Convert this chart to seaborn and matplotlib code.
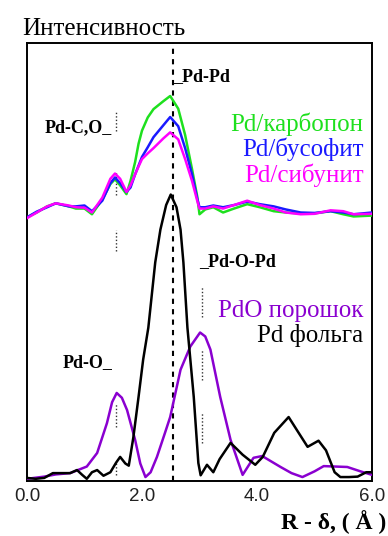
import pandas as pd
import matplotlib
matplotlib.use("Agg")
import matplotlib.pyplot as plt
import seaborn as sns

# upper group (supported Pd) - shared R grid
r_sup = [0.0, 0.17, 0.35, 0.5, 0.73, 0.85, 1.0, 1.13, 1.31, 1.45, 1.53, 1.62, 1.73, 1.8,
         1.88, 1.94, 2.0, 2.1, 2.2, 2.37, 2.49, 2.63, 2.75, 2.87, 2.96, 3.0, 3.1, 3.24, 3.41,
         3.6, 3.83, 4.05, 4.29, 4.5, 4.76, 5.0, 5.28, 5.5, 5.68, 6.0]
karbopon = [6.02, 6.13, 6.27, 6.34, 6.27, 6.22, 6.22, 6.09, 6.43, 6.78, 6.89, 6.75, 6.55, 6.85,
            7.28, 7.7, 8.0, 8.3, 8.49, 8.67, 8.79, 8.5, 7.9, 7.12, 6.5, 6.09, 6.2, 6.25, 6.13,
            6.22, 6.32, 6.25, 6.16, 6.13, 6.11, 6.11, 6.16, 6.09, 6.04, 6.06]
busofit = [6.02, 6.15, 6.25, 6.34, 6.27, 6.27, 6.29, 6.16, 6.4, 6.8, 6.93, 6.8, 6.6, 6.7,
           7.0, 7.2, 7.4, 7.62, 7.85, 8.12, 8.31, 8.1, 7.6, 7.0, 6.45, 6.25, 6.25, 6.29, 6.25,
           6.3, 6.38, 6.32, 6.27, 6.2, 6.13, 6.12, 6.16, 6.13, 6.09, 6.13]
sibunit = [6.0, 6.13, 6.27, 6.34, 6.29, 6.25, 6.24, 6.13, 6.47, 6.9, 7.02, 6.9, 6.6, 6.75,
           7.0, 7.18, 7.35, 7.48, 7.6, 7.82, 7.96, 7.8, 7.35, 6.85, 6.4, 6.22, 6.22, 6.27, 6.22,
           6.3, 6.4, 6.3, 6.22, 6.13, 6.09, 6.1, 6.18, 6.16, 6.09, 6.1]

# Pd foil
r_foil = [0.0, 0.15, 0.3, 0.45, 0.6, 0.75, 0.87, 0.96, 1.04, 1.13, 1.22, 1.33, 1.45, 1.55,
          1.62, 1.71, 1.77, 1.85, 1.94, 2.02, 2.11, 2.23, 2.32, 2.42, 2.5, 2.6, 2.67, 2.72,
          2.79, 2.9, 2.98, 3.02, 3.13, 3.24, 3.35, 3.54, 3.75, 3.97, 4.1, 4.3, 4.55, 4.7,
          4.88, 5.07, 5.2, 5.35, 5.45, 5.6, 5.75, 5.9, 6.0]
foil = [0.07, 0.05, 0.07, 0.18, 0.18, 0.18, 0.25, 0.14, 0.05, 0.2, 0.25, 0.12, 0.2, 0.42,
        0.55, 0.4, 0.35, 1.0, 1.92, 2.77, 3.5, 4.99, 5.74, 6.3, 6.54, 6.25, 5.74, 4.99,
        3.5, 1.92, 0.41, 0.13, 0.37, 0.2, 0.5, 0.87, 0.6, 0.37, 0.55, 1.1, 1.46, 1.15,
        0.78, 0.92, 0.7, 0.2, 0.09, 0.09, 0.1, 0.2, 0.2]

# PdO powder
r_pdo = [0.0, 0.3, 0.5, 0.75, 1.04, 1.22, 1.39, 1.48, 1.56, 1.65, 1.74, 1.88, 1.97, 2.06,
         2.15, 2.26, 2.4, 2.49, 2.67, 2.84, 3.01, 3.1, 3.19, 3.36, 3.54, 3.75, 3.94, 4.09,
         4.41, 4.6, 4.79, 5.0, 5.16, 5.57, 5.8, 6.0]
pdo = [0.05, 0.1, 0.15, 0.18, 0.33, 0.64, 1.32, 1.8, 2.01, 1.9, 1.62, 0.94, 0.4, 0.09,
       0.2, 0.55, 1.1, 1.46, 2.54, 3.07, 3.39, 3.3, 3.0, 1.92, 0.94, 0.14, 0.53, 0.57,
       0.32, 0.18, 0.09, 0.22, 0.34, 0.32, 0.22, 0.14]

series = [
    ("Pd/карбопон", r_sup, karbopon, "#1ee01e", 5.85, 8.0),
    ("Pd/бусофит", r_sup, busofit, "#1a1aff", 5.85, 7.41),
    ("Pd/сибунит", r_sup, sibunit, "#ff00ff", 5.85, 6.82),
    ("PdO порошок", r_pdo, pdo, "#8a00d0", 5.85, 3.75),
    ("Pd фольга", r_foil, foil, "#000000", 5.85, 3.18),
]

sns.set_style("white")
plt.rcParams["font.family"] = ["Liberation Serif", "DejaVu Serif"]
plt.rcParams["text.color"] = "black"

fig = plt.figure(figsize=(3.88, 5.36), dpi=100)
ax = fig.add_axes([27 / 388, 1 - 481 / 536, 345 / 388, 438 / 536])

# bond distances marks
ax.axvline(2.54, color="black", lw=1.5, ls=(0, (2.5, 2.5)), zorder=1)
dot_marks = [(1.55, 7.99, 8.42), (1.55, 6.54, 7.07), (1.55, 5.24, 5.74),
             (1.55, 1.24, 1.78), (1.55, 0.14, 0.41),
             (3.04, 3.75, 4.44), (3.04, 2.31, 3.0), (3.04, 0.87, 1.56)]
for xm, y0, y1 in dot_marks:
    ax.vlines(xm, y0, y1, colors="#333333", lw=1.0, linestyles=(0, (1, 1.5)), zorder=1)

for name, rx, vals, col, tx, ty in series:
    df = pd.DataFrame({"R": rx, "I": vals})
    sns.lineplot(data=df, x="R", y="I", color=col, lw=1.8, ax=ax, sort=False,
                 estimator=None, zorder=3)
    ax.text(tx, ty, name, color=col, fontsize=18, ha="right", va="baseline")

lab = dict(fontsize=13, fontweight="bold", color="black", va="baseline")
ax.text(2.54, 9.13, "_Pd-Pd", ha="left", **lab)
ax.text(1.48, 7.96, "Pd-C,O_", ha="right", **lab)
ax.text(3.0, 4.9, "_Pd-O-Pd", ha="left", **lab)
ax.text(1.48, 2.61, "Pd-O_", ha="right", **lab)

ax.set_xlim(0, 6)
ax.set_ylim(0, 10)
ax.set_xticks([0, 1, 2, 3, 4, 5, 6])
ax.set_xticklabels(["0.0", "", "2.0", "", "4.0", "", "6.0"],
                   fontfamily="Liberation Sans", fontsize=13.5, color="#222222")
ax.set_yticks(range(0, 11))
ax.set_yticklabels([])
ax.tick_params(direction="in", length=4, width=1.2, colors="black", pad=5)
ax.tick_params(axis="x", labelcolor="#222222")
ax.tick_params(axis="y", length=3)
for s in ax.spines.values():
    s.set_linewidth(1.4)
    s.set_color("black")
ax.set_xlabel("")
ax.set_ylabel("")

fig.text(22 / 388, 1 - 35 / 536, "Интенсивность", fontsize=18, ha="left", va="baseline")
fig.text(386 / 388, 1 - 529 / 536, "R - δ, ( Å )", fontsize=17, fontweight="bold",
         ha="right", va="baseline")

fig.savefig("out.png", dpi=100)
